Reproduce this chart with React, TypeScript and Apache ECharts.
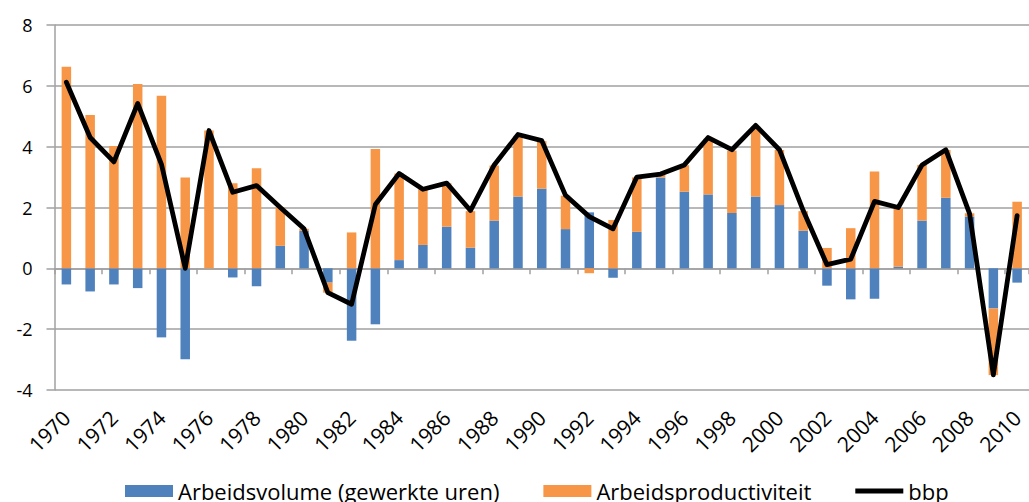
import React, { useEffect, useRef } from "react";
import * as echarts from "echarts";

const years = [
  "1970","1971","1972","1973","1974","1975","1976","1977","1978","1979",
  "1980","1981","1982","1983","1984","1985","1986","1987","1988","1989",
  "1990","1991","1992","1993","1994","1995","1996","1997","1998","1999",
  "2000","2001","2002","2003","2004","2005","2006","2007","2008","2009",
  "2010",
];

const arbeidsvolume = [
  -0.53, -0.76, -0.53, -0.65, -2.27, -2.99, 0, -0.3, -0.59, 0.74,
  1.23, -0.47, -2.38, -1.84, 0.27, 0.77, 1.37, 0.68, 1.57, 2.36,
  2.62, 1.29, 1.84, -0.31, 1.2, 2.99, 2.52, 2.43, 1.82, 2.36,
  2.08, 1.24, -0.57, -1.02, -1.0, 0.05, 1.57, 2.32, 1.7, -1.32,
  -0.47,
];

const arbeidsproductiviteit = [
  6.63, 5.04, 4.02, 6.06, 5.67, 2.99, 4.53, 2.8, 3.29, 1.26,
  0.07, -0.33, 1.18, 3.92, 2.85, 1.83, 1.43, 1.2, 1.81, 2.0,
  1.56, 1.1, -0.16, 1.59, 1.79, 0.1, 0.87, 1.83, 2.05, 2.3,
  1.81, 0.64, 0.67, 1.32, 3.18, 1.93, 1.83, 1.57, 0.11, -2.19,
  2.19,
];

const bbp = [
  6.12, 4.3, 3.5, 5.42, 3.42, 0.0, 4.53, 2.5, 2.72, 2.0,
  1.3, -0.8, -1.18, 2.1, 3.12, 2.6, 2.8, 1.9, 3.4, 4.4,
  4.2, 2.4, 1.7, 1.3, 3.0, 3.1, 3.4, 4.3, 3.9, 4.7,
  3.9, 1.9, 0.12, 0.3, 2.2, 2.0, 3.4, 3.9, 1.8, -3.5,
  1.73,
];

const FONT = "'Open Sans', 'Noto Sans', sans-serif";
const GRID_GRAY = "#a0a0a0";

export default function App() {
  const ref = useRef<HTMLDivElement>(null);

  useEffect(() => {
    if (!ref.current) return;
    const chart = echarts.init(ref.current, null, { renderer: "svg" });
    chart.setOption({
      animation: false,
      backgroundColor: "#ffffff",
      textStyle: { fontFamily: FONT },
      grid: { left: 54.5, top: 25, width: 984, height: 365 },
      legend: {
        top: 475,
        left: 120,
        itemWidth: 48,
        itemHeight: 12,
        itemGap: 44,
        textStyle: { fontSize: 22, color: "#000", fontFamily: FONT },
        data: [
          { name: "Arbeidsvolume (gewerkte uren)", icon: "rect" },
          { name: "Arbeidsproductiviteit", icon: "rect" },
          { name: "bbp", icon: "path://M0,0H48V5H0Z", itemStyle: { color: "#000" } },
        ],
      },
      xAxis: [
        {
          type: "category",
          data: years,
          position: "top",
          boundaryGap: true,
          axisLine: { show: true, onZero: true, lineStyle: { color: GRID_GRAY, width: 1.5 } },
          axisTick: { show: true, inside: true, length: 6, lineStyle: { color: GRID_GRAY, width: 1.5 } },
          axisLabel: { show: false },
          splitLine: { show: false },
        },
        {
          type: "category",
          data: years,
          position: "bottom",
          boundaryGap: true,
          axisLine: { show: false, onZero: false },
          axisTick: { show: false },
          axisLabel: {
            show: true,
            interval: 1,
            rotate: 45,
            margin: 24,
            fontSize: 21,
            color: "#000",
            fontFamily: FONT,
          },
          splitLine: { show: false },
        },
      ],
      yAxis: {
        type: "value",
        min: -4,
        max: 8,
        interval: 2,
        axisLine: { show: true, lineStyle: { color: GRID_GRAY, width: 1.5 } },
        axisTick: { show: true, length: 8, lineStyle: { color: GRID_GRAY, width: 1.5 } },
        axisLabel: { margin: 22, fontSize: 18, color: "#000", fontFamily: FONT },
        splitLine: { show: true, lineStyle: { color: GRID_GRAY, width: 1.5 } },
      },
      series: [
        {
          name: "Arbeidsvolume (gewerkte uren)",
          type: "bar",
          stack: "total",
          xAxisIndex: 0,
          barWidth: 9.5,
          itemStyle: { color: "#4F81BD" },
          data: arbeidsvolume,
        },
        {
          name: "Arbeidsproductiviteit",
          type: "bar",
          stack: "total",
          xAxisIndex: 0,
          barWidth: 9.5,
          itemStyle: { color: "#F79646" },
          data: arbeidsproductiviteit,
        },
        {
          name: "bbp",
          type: "line",
          xAxisIndex: 0,
          symbol: "none",
          showSymbol: false,
          lineStyle: { color: "#000", width: 4.8, cap: "round", join: "round" },
          itemStyle: { color: "#000" },
          z: 5,
          data: bbp,
        },
      ],
    });
    return () => chart.dispose();
  }, []);

  return (
    <div
      ref={ref}
      style={{ position: "fixed", left: 0, top: 0, width: 1029, height: 502, background: "#fff" }}
    />
  );
}
